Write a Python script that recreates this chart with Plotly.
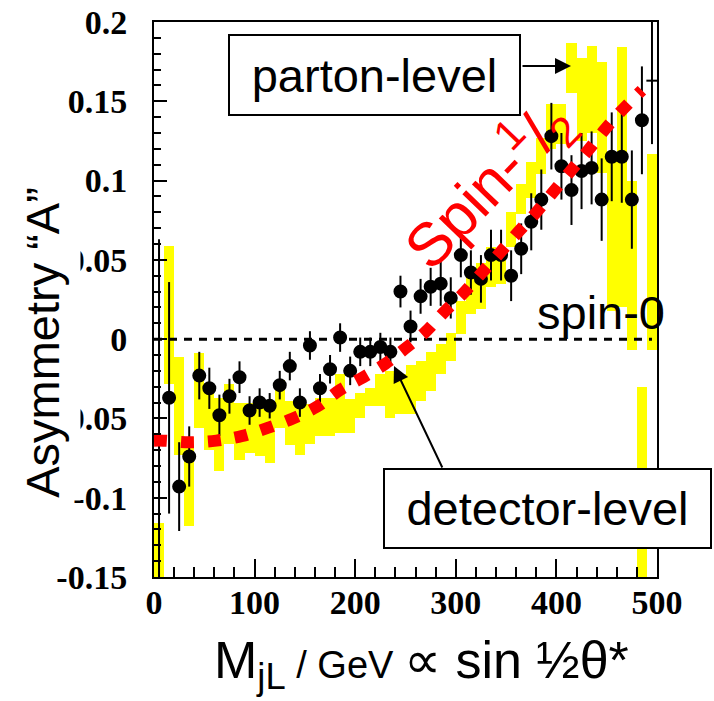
import plotly.graph_objects as go

# ---- data -------------------------------------------------------------
# 10 GeV bins in M_jL
bin_centres = [5 + 10 * k for k in range(50)]

# detector-level asymmetry and its statistical error
det_asym = [-0.170, -0.037, -0.093, -0.074, -0.023, -0.031, -0.048, -0.036, -0.024, -0.045,
            -0.040, -0.042, -0.029, -0.017, -0.040, -0.004, -0.031, -0.019, 0.001, -0.020,
            -0.008, -0.008, -0.005, -0.008, 0.030, 0.008, 0.027, 0.033, 0.035, 0.026,
            0.053, 0.042, 0.038, 0.053, 0.053, 0.040, 0.057, 0.074, 0.088, 0.128,
            0.109, 0.094, 0.106, 0.108, 0.088, 0.115, 0.115, 0.088, 0.138, 0.163]
det_err = [0.233, 0.073, 0.028, 0.019, 0.015, 0.013, 0.013, 0.011, 0.010, 0.009,
           0.009, 0.008, 0.009, 0.009, 0.009, 0.009, 0.009, 0.009, 0.009, 0.009,
           0.009, 0.009, 0.009, 0.009, 0.010, 0.010, 0.011, 0.012, 0.014, 0.013,
           0.014, 0.014, 0.015, 0.016, 0.016, 0.016, 0.016, 0.018, 0.019, 0.021,
           0.021, 0.022, 0.024, 0.023, 0.026, 0.028, 0.029, 0.031, 0.034, 0.040]

# parton-level asymmetry band (lower / upper edge per bin)
parton_lo = [-0.250, -0.028, -0.073, -0.118, -0.056, -0.070, -0.083, -0.066, -0.076, -0.072,
             -0.074, -0.078, -0.056, -0.067, -0.073, -0.066, -0.061, -0.061, -0.059, -0.059,
             -0.050, -0.042, -0.042, -0.050, -0.047, -0.047, -0.039, -0.033, -0.022, -0.014,
             0.003, 0.016, 0.019, 0.033, 0.035, 0.058, 0.079, 0.089, 0.104, 0.120,
             0.123, 0.155, 0.125, 0.130, 0.105, 0.018, 0.020, -0.007, -0.250, -0.007]
parton_hi = [-0.116, 0.059, -0.011, -0.062, -0.009, -0.030, -0.037, -0.028, -0.040, -0.040,
             -0.040, -0.040, -0.026, -0.039, -0.043, -0.041, -0.037, -0.037, -0.022, -0.038,
             -0.034, -0.031, -0.022, -0.020, -0.022, -0.016, -0.014, -0.008, -0.003, 0.004,
             0.024, 0.045, 0.048, 0.058, 0.056, 0.080, 0.098, 0.112, 0.127, 0.148,
             0.148, 0.187, 0.177, 0.185, 0.175, 0.115, 0.184, 0.100, -0.030, 0.117]

# spin-1/2 expectation
spin_half_m = [0, 9, 35, 62, 88, 113, 138, 162, 185, 208, 230, 249.5, 269.4, 288.3, 306.9,
               324.7, 343.2, 360.5, 378.7, 395.3, 412.8, 430.1, 446.6, 463.2, 485]
spin_half_a = [-0.064, -0.064, -0.065, -0.064, -0.061, -0.056, -0.050, -0.0426, -0.032, -0.024,
               -0.0155, -0.006, 0.0043, 0.017, 0.0285, 0.041, 0.054, 0.0665, 0.079, 0.0916,
               0.105, 0.118, 0.131, 0.143, 0.157]

# spin-0 expectation
spin0_m = [0, 495]
spin0_a = [0, 0]

x_ticks = [0, 100, 200, 300, 400, 500]
x_tick_text = ["0", "100", "200", "300", "400", "500"]
y_ticks = [-0.15, -0.1, -0.05, 0, 0.05, 0.1, 0.15, 0.2]
y_tick_text = ["-0.15", "-0.1", "-0.05", "0", "0.05", "0.1", "0.15", "0.2"]

# ---- layout geometry (pixels) ------------------------------------------
W, H = 714, 701
L, R, T, B = 154, 657, 22, 577


def px(x):
    return (x - L) / (R - L)


def py(y):
    return (B - y) / (B - T)


SANS = "Liberation Sans, Arial, sans-serif"
SERIF = "Liberation Serif, Times New Roman, serif"

fig = go.Figure()

# parton-level band
fig.add_trace(go.Bar(
    x=bin_centres,
    base=parton_lo,
    y=[h - l for h, l in zip(parton_hi, parton_lo)],
    width=10,
    marker=dict(color="#ffff00", line=dict(width=0)),
    showlegend=False,
))

# spin-0 reference line
fig.add_trace(go.Scatter(
    x=spin0_m, y=spin0_a, mode="lines",
    line=dict(color="black", width=3, dash="8px,7px"),
    showlegend=False,
))

# detector-level points
symbols = ["circle"] * (len(det_asym) - 1) + ["line-ew"]
sizes = [12] * (len(det_asym) - 1) + [8]
fig.add_trace(go.Scatter(
    x=bin_centres, y=det_asym, mode="markers",
    marker=dict(color="black", size=sizes, symbol=symbols, opacity=1,
                line=dict(color="black", width=2)),
    error_y=dict(type="data", array=det_err, color="black", thickness=2, width=0),
    showlegend=False,
))

# spin-1/2 expectation
fig.add_trace(go.Scatter(
    x=spin_half_m, y=spin_half_a, mode="lines",
    line=dict(color="#ff0000", width=12, dash="13px,14px", shape="spline"),
    showlegend=False,
))

axis_common = dict(
    showgrid=False, zeroline=False, automargin=False,
    showline=True, linecolor="black", linewidth=2, mirror=True,
    ticks="inside", tickcolor="black", tickwidth=1.5,
    tickfont=dict(family=SERIF, size=34, color="black", weight="bold"),
)

fig.update_xaxes(
    range=[0, 500], tickvals=x_ticks, ticktext=x_tick_text, ticklen=18,
    minor=dict(dtick=20, ticklen=10, ticks="inside", tickcolor="black", tickwidth=1.5),
    ticklabelstandoff=-6,
    **axis_common,
)
fig.update_yaxes(
    range=[-0.15, 0.2], tickvals=y_ticks, ticktext=y_tick_text, ticklen=13,
    minor=dict(dtick=0.01, ticklen=7, ticks="inside", tickcolor="black", tickwidth=1.5),
    ticklabelstandoff=18,
    **axis_common,
)


def label(x, y, text, **kw):
    d = dict(x=px(x), y=py(y), xref="paper", yref="paper", text=text,
             showarrow=False, xanchor="center", yanchor="middle")
    d.update(kw)
    return d


def arrow(head, tail):
    return dict(x=px(head[0]), y=py(head[1]), xref="paper", yref="paper", text="",
                showarrow=True, ax=tail[0] - head[0], ay=tail[1] - head[1],
                arrowhead=2, arrowsize=1.6, arrowwidth=2, arrowcolor="black")


annotations = [
    # y-axis title (white box sits over the tick labels)
    label(48, 343, "Asymmetry \u201cA\u201d", textangle=-90,
          font=dict(family=SANS, size=47, color="black"),
          bgcolor="white", width=315, height=64, valign="top", borderpad=0),
    # x-axis title
    label(421, 664,
          "M<sub>jL</sub><span style='font-size:38px'> / GeV </span>\u221d sin \u00bd\u03b8*",
          font=dict(family=SANS, size=52, color="black")),
    # parton-level label and arrow
    label(374.5, 75, "parton-level",
          font=dict(family=SANS, size=47, color="black"),
          bgcolor="white", bordercolor="black", borderwidth=2, borderpad=0,
          width=289, height=78),
    arrow((571, 66), (521, 66)),
    # detector-level label and arrow
    label(547.5, 508.5, "detector-level",
          font=dict(family=SANS, size=47, color="black"),
          bgcolor="white", bordercolor="black", borderwidth=2, borderpad=0,
          width=325, height=77),
    arrow((394, 366), (443, 469)),
    # curve labels
    label(601, 312, "spin-0", font=dict(family=SANS, size=47, color="black")),
    label(487, 184, "Spin-<sup>1</sup>/<sub>2</sub>", textangle=-46,
          font=dict(family=SANS, size=61, color="#ff0000")),
]

fig.update_layout(
    width=W, height=H,
    margin=dict(l=L, r=W - R, t=T, b=H - B),
    paper_bgcolor="white", plot_bgcolor="white",
    barmode="overlay", bargap=0,
    annotations=annotations,
    showlegend=False,
)

fig.write_html("out.html")
